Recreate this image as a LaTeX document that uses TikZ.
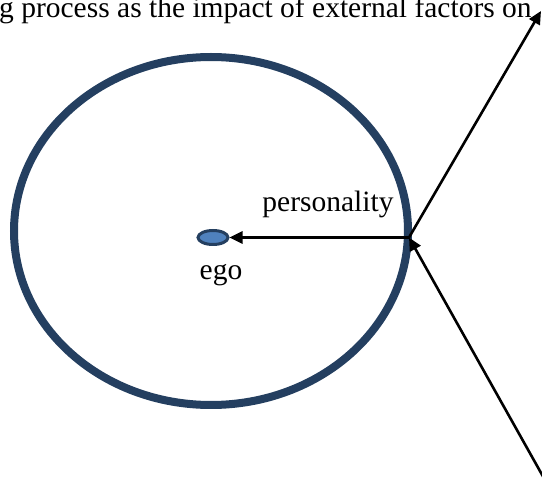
\documentclass[tikz,border=0pt]{standalone}
\usepackage{fontspec}
\setmainfont{Liberation Serif}
\usetikzlibrary{arrows.meta,shapes.geometric}
\definecolor{navy}{HTML}{243F60}
\definecolor{egofill}{HTML}{4F81BD}
\begin{document}
\begin{tikzpicture}[x=1pt,y=-1pt,
  lbl/.style={font=\fontsize{29.5}{34}\selectfont, inner sep=0pt},
  conn/.style={line width=2.6pt, -{Triangle[length=13pt,width=12pt]}}]
\useasboundingbox (0,0) rectangle (542,489);
\clip (0,0) rectangle (542,489);
\node[lbl, anchor=base west] (title) at (-1,18) {g process as the impact of external factors on};
\draw[navy, line width=8pt] (211,231) ellipse [x radius=197, y radius=174];
\node[ellipse, draw=navy, fill=egofill, line width=3pt, minimum width=30pt, minimum height=14pt, inner sep=0pt] (ego) at (213,237.5) {};
\coordinate (hub) at (409,237.5);
\coordinate (tr) at (541,11);
\coordinate (br) at (545,480);
\node[lbl, anchor=base] (pl) at (328,212) {personality};
\node[lbl, anchor=base] (el) at (221,280) {ego};
\draw[conn] (hub) -- (ego.east);
\draw[conn] (hub) -- (tr);
\draw[conn] (br) -- (hub);
\end{tikzpicture}
\end{document}
